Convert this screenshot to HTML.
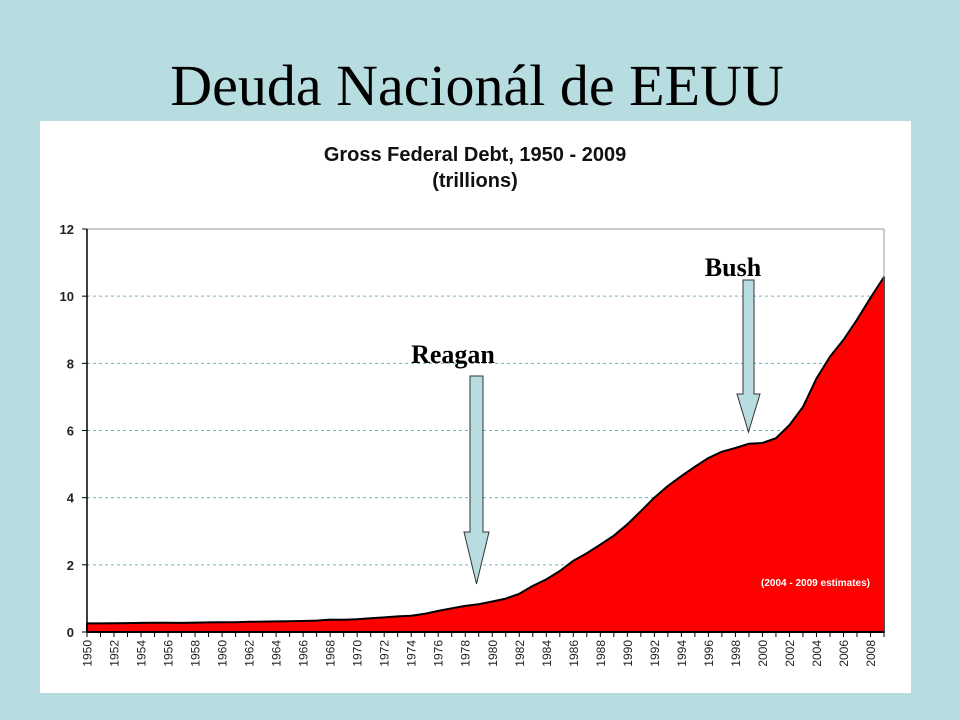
<!DOCTYPE html>
<html><head><meta charset="utf-8"><style>
html,body{margin:0;padding:0;width:960px;height:720px;background:#b7dde1;overflow:hidden}
svg{display:block}
</style></head><body>
<svg width="960" height="720" xmlns="http://www.w3.org/2000/svg">
<text x="477" y="105" text-anchor="middle" font-family="Liberation Serif, serif" font-size="58" fill="#000">Deuda Nacionál de EEUU</text>
<rect x="40" y="121" width="871" height="572" fill="#fff"/>
<text x="475" y="161" text-anchor="middle" font-family="Liberation Sans, sans-serif" font-weight="bold" font-size="20" fill="#111">Gross Federal Debt, 1950 - 2009</text>
<text x="475" y="187" text-anchor="middle" font-family="Liberation Sans, sans-serif" font-weight="bold" font-size="20" fill="#111">(trillions)</text>
<g id="grid"></g>
<g id="area"></g>
<g id="axes"></g>
<text x="870" y="586" text-anchor="end" font-family="Liberation Sans, sans-serif" font-weight="bold" font-size="10" fill="#fff">(2004 - 2009 estimates)</text>
<text x="453" y="363" text-anchor="middle" font-family="Liberation Serif, serif" font-weight="bold" font-size="26" fill="#000">Reagan</text>
<polygon points="470,376 483,376 483,532 489,532 476.5,584 464,532 470,532" fill="#b7dde1" stroke="#333" stroke-width="1"/>
<text x="733" y="276" text-anchor="middle" font-family="Liberation Serif, serif" font-weight="bold" font-size="26" fill="#000">Bush</text>
<polygon points="743,280 754,280 754,394 760,394 748.5,432 737,394 743,394" fill="#b7dde1" stroke="#333" stroke-width="1"/>
</svg>
<script>
const years = [];
for (let y = 1950; y <= 2009; y++) years.push(y);
const debt = [0.257,0.255,0.259,0.266,0.271,0.274,0.273,0.272,0.280,0.287,0.291,0.293,0.303,0.311,0.317,0.322,0.328,0.340,0.369,0.366,0.381,0.408,0.436,0.466,0.484,0.542,0.629,0.706,0.777,0.829,0.909,0.995,1.137,1.372,1.565,1.817,2.121,2.346,2.601,2.868,3.206,3.598,4.002,4.351,4.643,4.921,5.181,5.369,5.478,5.606,5.629,5.770,6.160,6.700,7.550,8.200,8.700,9.300,9.950,10.570];
const yTicks = [0,2,4,6,8,10,12];
const NS = 'http://www.w3.org/2000/svg';
const X0 = 87, X1 = 884, Y0 = 632, Y1 = 229;
const xs = y => X0 + (y - years[0]) / (years[years.length-1] - years[0]) * (X1 - X0);
const ys = v => Y0 - v / 12 * (Y0 - Y1);
function mk(tag, attrs, parent){const e=document.createElementNS(NS,tag);for(const k in attrs)e.setAttribute(k,attrs[k]);document.getElementById(parent).appendChild(e);return e;}
yTicks.forEach(t => {
  if (t > 0 && t < 12) {
    const g = mk('line',{x1:X0,x2:X1,y1:ys(t),y2:ys(t),stroke:'#6fb4c4','stroke-width':1,'stroke-dasharray':'3,3'},'grid');
    
    
  }
  const lb = mk('text',{x:74,y:ys(t)+5,'text-anchor':'end','font-family':'Liberation Sans, sans-serif','font-size':13,'font-weight':'bold',fill:'#222'},'axes');
  lb.textContent = t;
  
  
  const tk = mk('line',{x1:X0-5,x2:X0,y1:ys(t),y2:ys(t),stroke:'#000'},'axes');
  
  
});
let pathD = 'M' + xs(years[0]) + ',' + Y0;
years.forEach((y,i) => { pathD += ' L' + xs(y).toFixed(1) + ',' + ys(debt[i]).toFixed(1); });
pathD += ' L' + xs(years[years.length-1]) + ',' + Y0 + ' Z';
const areaEl = mk('path',{d:pathD,fill:'#ff0000',stroke:'#000','stroke-width':2,'stroke-linejoin':'round'},'area');


const topBorder = mk('line',{x1:X0,x2:X1,y1:Y1,y2:Y1,stroke:'#999'},'axes');


const rightBorder = mk('line',{x1:X1,x2:X1,y1:Y1,y2:Y0,stroke:'#999'},'axes');


const yAxisEl = mk('line',{x1:X0,x2:X0,y1:Y1,y2:Y0,stroke:'#000','stroke-width':1.5},'axes');


const xAxisEl = mk('line',{x1:X0,x2:X1,y1:Y0,y2:Y0,stroke:'#000','stroke-width':1.5},'axes');


years.forEach((y,i) => {
  const tk = mk('line',{x1:xs(y),x2:xs(y),y1:Y0,y2:Y0+5,stroke:'#000'},'axes');
  
  
  if (i % 2 === 0) {
    const lb = mk('text',{x:0,y:0,'text-anchor':'end','font-family':'Liberation Sans, sans-serif','font-size':12,fill:'#222',transform:'translate(' + (xs(y)+4.5) + ',' + (Y0+8) + ') rotate(-90)'},'axes');
    lb.textContent = y;
    
    
  }
});
</script>
</body></html>
